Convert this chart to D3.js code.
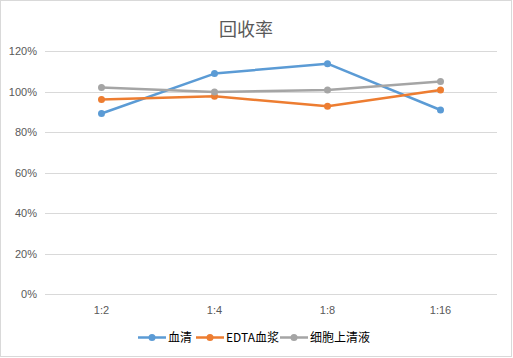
<!DOCTYPE html>
<html><head><meta charset="utf-8">
<script src="https://cdn.jsdelivr.net/npm/d3@7"></script>
<style>body{margin:0;background:#fff}svg{display:block}</style>
</head><body>
<script>
const categories = ["1:2", "1:4", "1:8", "1:16"];
const seriesNames = ["血清", "EDTA血浆", "细胞上清液"];
const serum = [0.893, 1.090, 1.139, 0.910];
const edta = [0.962, 0.978, 0.929, 1.009];
const supernatant = [1.021, 0.999, 1.009, 1.051];
const yTicks = [0, 0.2, 0.4, 0.6, 0.8, 1.0, 1.2];
const colors = ["#5b9bd5", "#ed7d31", "#a5a5a5"];
const title = "回收率";

const W = 513, H = 358;
const svg = d3.select("body").append("svg").attr("width", W).attr("height", H);
svg.append("rect").attr("x", 0.5).attr("y", 0.5).attr("width", 511).attr("height", 356)
  .attr("fill", "#fff").attr("stroke", "#d9d9d9");

const font = "'Noto Sans CJK SC','Noto Sans',sans-serif";
svg.append("text").attr("x", 246).attr("y", 36).attr("text-anchor", "middle")
  .attr("font-family", font).attr("font-size", 18).attr("fill", "#595959").text(title);

const x = d3.scaleBand().domain(categories).range([45, 497]);
const y = d3.scaleLinear().domain([0, 1.2]).range([294.3, 51.3]);

const grid = svg.append("g");
grid.selectAll("line").data(yTicks).join("line")
  .attr("x1", 45).attr("x2", 497)
  .attr("y1", d => Math.round(y(d)) + 0.5).attr("y2", d => Math.round(y(d)) + 0.5)
  .attr("stroke", "#d9d9d9").attr("stroke-width", 1);

const yAxis = svg.append("g").attr("transform", "translate(45,0)")
  .call(d3.axisLeft(y).tickValues(yTicks).tickFormat(d3.format(".0%")).tickSize(0).tickPadding(8));
yAxis.select(".domain").remove();
yAxis.selectAll("text").attr("font-family", "'Liberation Sans',Arial,sans-serif").attr("font-size", 11).attr("fill", "#595959");

const xAxis = svg.append("g").attr("transform", "translate(0,294.3)")
  .call(d3.axisBottom(x).tickSize(0).tickPadding(12));
xAxis.select(".domain").remove();
xAxis.selectAll("text").attr("font-family", "'Liberation Sans',Arial,sans-serif").attr("font-size", 11).attr("fill", "#595959");

const data = [serum, edta, supernatant];
const cx = c => x(c) + x.bandwidth() / 2;
const line = d3.line().x((d, i) => cx(categories[i])).y(d => y(d));
data.forEach((vals, s) => {
  const g = svg.append("g");
  g.append("path").datum(vals).attr("d", line).attr("fill", "none")
    .attr("stroke", colors[s]).attr("stroke-width", 2.5).attr("stroke-linejoin", "round");
  g.selectAll("circle").data(vals).join("circle")
    .attr("cx", (d, i) => cx(categories[i])).attr("cy", d => y(d)).attr("r", 3.5)
    .attr("fill", colors[s]);
});

// legend
const legend = svg.append("g");
const legendItems = [{x: 138, tx: 169}, {x: 196, tx: 227}, {x: 280, tx: 311}];
seriesNames.forEach((n, i) => {
  const it = legendItems[i];
  const g = legend.append("g");
  g.append("line").attr("x1", it.x).attr("x2", it.x + 28).attr("y1", 337.5).attr("y2", 337.5)
    .attr("stroke", colors[i]).attr("stroke-width", 2.5);
  g.append("circle").attr("cx", it.x + 14).attr("cy", 337.5).attr("r", 3.5).attr("fill", colors[i]);
  g.append("text").attr("x", it.x + 30).attr("y", 342).attr("font-family", font)
    .attr("font-size", 12).attr("fill", "#000").text(n);
});
</script>
</body></html>
